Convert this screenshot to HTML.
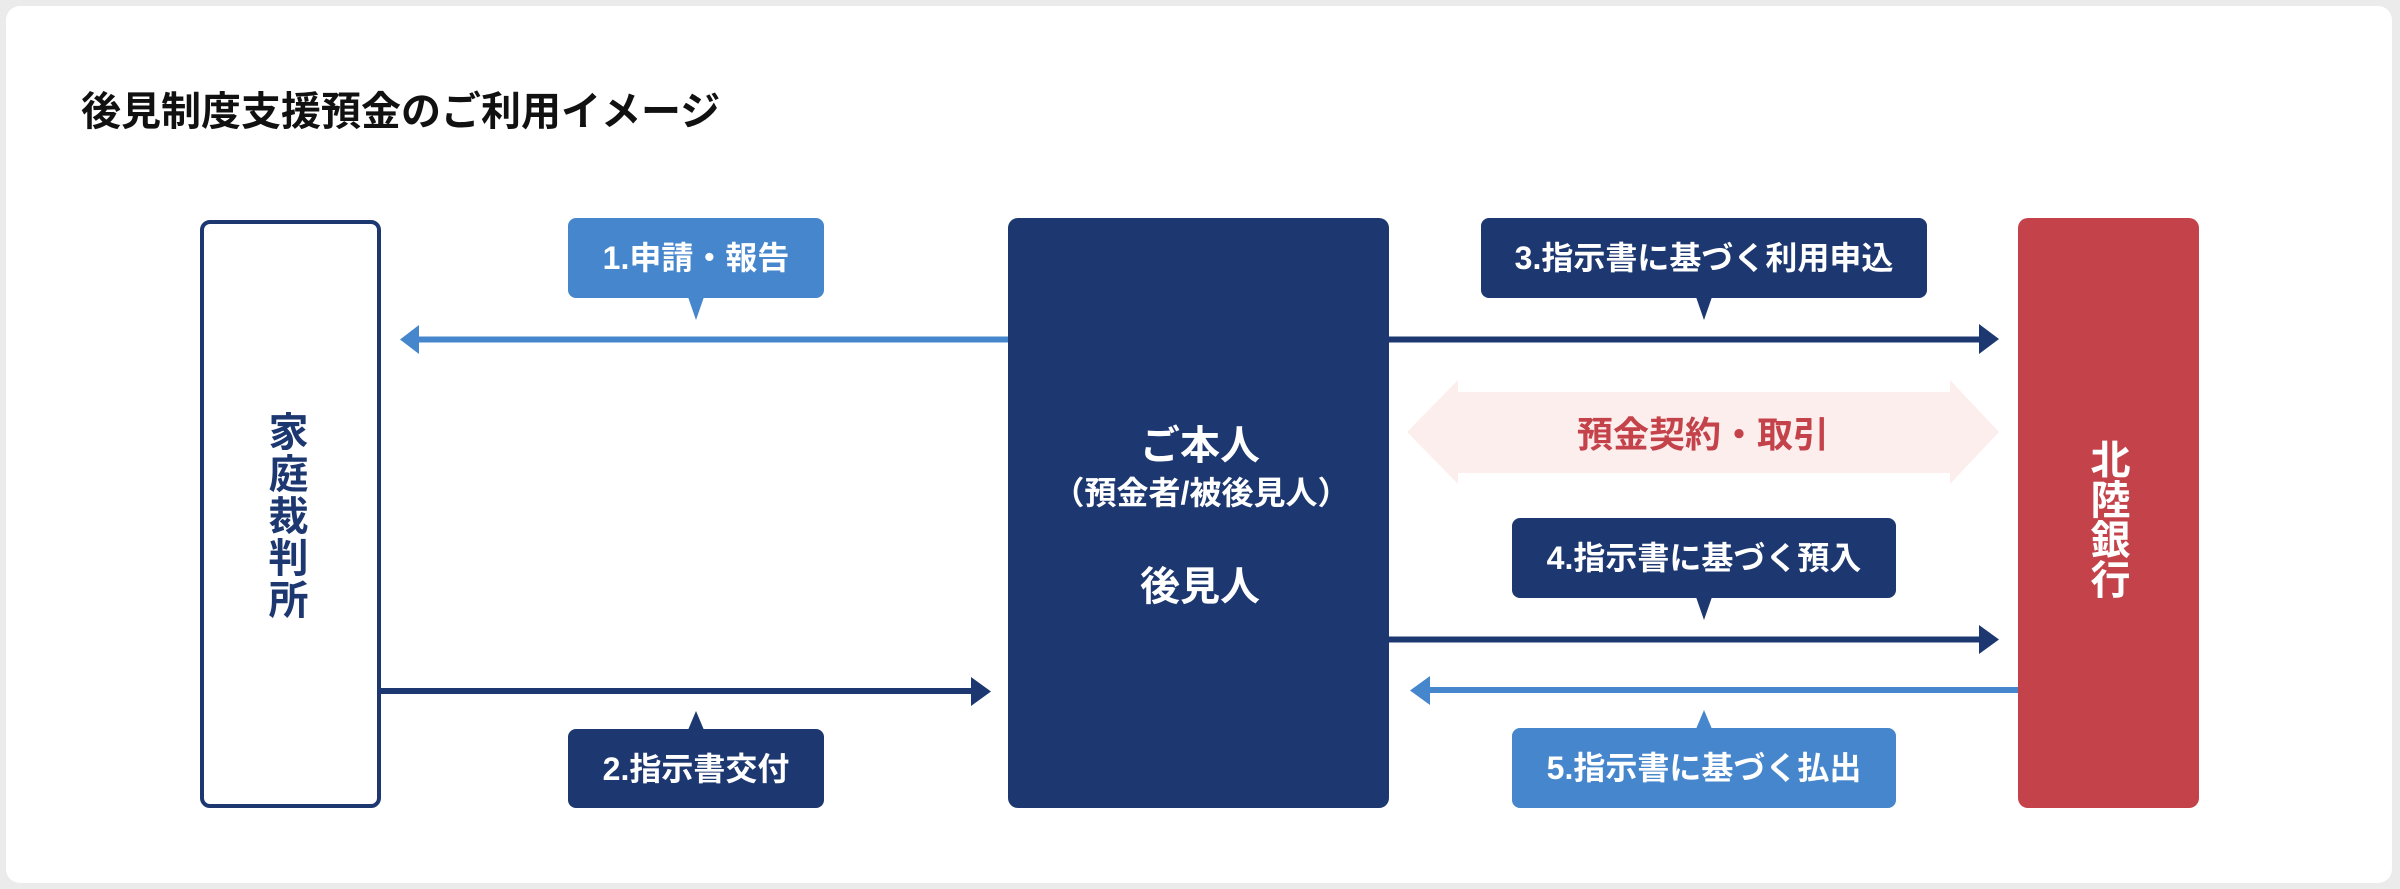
<!DOCTYPE html>
<html lang="ja">
<head>
<meta charset="utf-8">
<style>
  html,body{margin:0;padding:0;}
  body{width:2400px;height:889px;background:#ebebeb;position:relative;overflow:hidden;
       font-family:"Liberation Sans","Noto Sans CJK JP",sans-serif;font-weight:bold;}
  .card{position:absolute;left:6px;top:6px;width:2386px;height:877px;background:#fff;border-radius:14px;}
  svg{position:absolute;left:0;top:0;}
  .t{position:absolute;white-space:nowrap;text-align:center;}
  .bub{position:absolute;display:flex;align-items:center;justify-content:center;color:#fff;font-size:32px;line-height:32px;white-space:nowrap;}
</style>
</head>
<body>
<div class="card"></div>

<svg width="2400" height="889" viewBox="0 0 2400 889">
  <!-- main boxes -->
  <rect x="202" y="222" width="177" height="584" rx="8" ry="8" fill="#fff" stroke="#1d3870" stroke-width="4"/>
  <rect x="1008" y="218" width="381" height="590" rx="10" ry="10" fill="#1d3870"/>
  <rect x="2018" y="218" width="181" height="590" rx="10" ry="10" fill="#c4434b"/>

  <!-- double arrow -->
  <polygon points="1407,432 1458,380 1458,392 1950,392 1950,380 1999,432 1950,484 1950,473 1458,473 1458,484" fill="#fdeeee"/>

  <!-- arrow 1 (light blue, to court) -->
  <line x1="417" y1="339.5" x2="1008" y2="339.5" stroke="#4686cd" stroke-width="6"/>
  <polygon points="400,339.5 419,325 419,354" fill="#4686cd"/>

  <!-- arrow 2 (navy, to person) -->
  <line x1="381" y1="691" x2="973" y2="691" stroke="#1d3870" stroke-width="6"/>
  <polygon points="991,691.5 971,677 971,706" fill="#1d3870"/>

  <!-- arrow 3 (navy, to bank) -->
  <line x1="1389" y1="339.5" x2="1981" y2="339.5" stroke="#1d3870" stroke-width="6"/>
  <polygon points="1999,339 1979,324 1979,354" fill="#1d3870"/>

  <!-- arrow 4 (navy, to bank) -->
  <line x1="1389" y1="639.5" x2="1981" y2="639.5" stroke="#1d3870" stroke-width="6"/>
  <polygon points="1999,639.5 1979,625 1979,654" fill="#1d3870"/>

  <!-- arrow 5 (light blue, to person) -->
  <line x1="1428" y1="690" x2="2018" y2="690" stroke="#4686cd" stroke-width="6"/>
  <polygon points="1410,690.5 1430,676 1430,705" fill="#4686cd"/>

  <!-- bubbles -->
  <rect x="568" y="218" width="256" height="80" rx="8" ry="8" fill="#4686cd"/>
  <polygon points="688,297 704,297 696,320" fill="#4686cd"/>

  <rect x="568" y="729" width="256" height="79" rx="8" ry="8" fill="#1d3870"/>
  <polygon points="688,730 704,730 696,711" fill="#1d3870"/>

  <rect x="1481" y="218" width="446" height="80" rx="8" ry="8" fill="#1d3870"/>
  <polygon points="1696,297 1712,297 1704,320" fill="#1d3870"/>

  <rect x="1512" y="518" width="384" height="80" rx="8" ry="8" fill="#1d3870"/>
  <polygon points="1696,597 1712,597 1704,620" fill="#1d3870"/>

  <rect x="1512" y="728" width="384" height="80" rx="8" ry="8" fill="#4686cd"/>
  <polygon points="1696,729 1712,729 1704,710" fill="#4686cd"/>
</svg>

<!-- title -->
<div class="t" style="left:81px;top:92px;height:40px;font-size:40px;line-height:40px;color:#111;text-align:left;">後見制度支援預金のご利用イメージ</div>

<!-- court -->
<div class="t" style="left:198px;top:412px;width:181px;font-size:40px;line-height:42px;color:#1d3870;">家<br>庭<br>裁<br>判<br>所</div>

<!-- person -->
<div class="t" style="left:1008px;top:426px;width:384px;font-size:40px;line-height:40px;color:#fff;">ご本人</div>
<div class="t" style="left:1008px;top:477px;width:386px;font-size:32px;line-height:32px;color:#fff;">（預金者/被後見人）</div>
<div class="t" style="left:1008px;top:567px;width:384px;font-size:40px;line-height:40px;color:#fff;">後見人</div>

<!-- bank -->
<div class="t" style="left:2020px;top:441px;width:181px;font-size:40px;line-height:40px;color:#fff;">北<br>陸<br>銀<br>行</div>

<!-- contract text -->
<div class="t" style="left:1407px;top:417px;width:592px;font-size:36px;line-height:36px;color:#c4434b;">預金契約・取引</div>

<!-- bubble texts -->
<div class="bub" style="left:568px;top:218px;width:256px;height:80px;">1.申請・報告</div>
<div class="bub" style="left:568px;top:729px;width:256px;height:79px;">2.指示書交付</div>
<div class="bub" style="left:1481px;top:218px;width:446px;height:80px;">3.指示書に基づく利用申込</div>
<div class="bub" style="left:1512px;top:518px;width:384px;height:80px;">4.指示書に基づく預入</div>
<div class="bub" style="left:1512px;top:728px;width:384px;height:80px;">5.指示書に基づく払出</div>
</body>
</html>
